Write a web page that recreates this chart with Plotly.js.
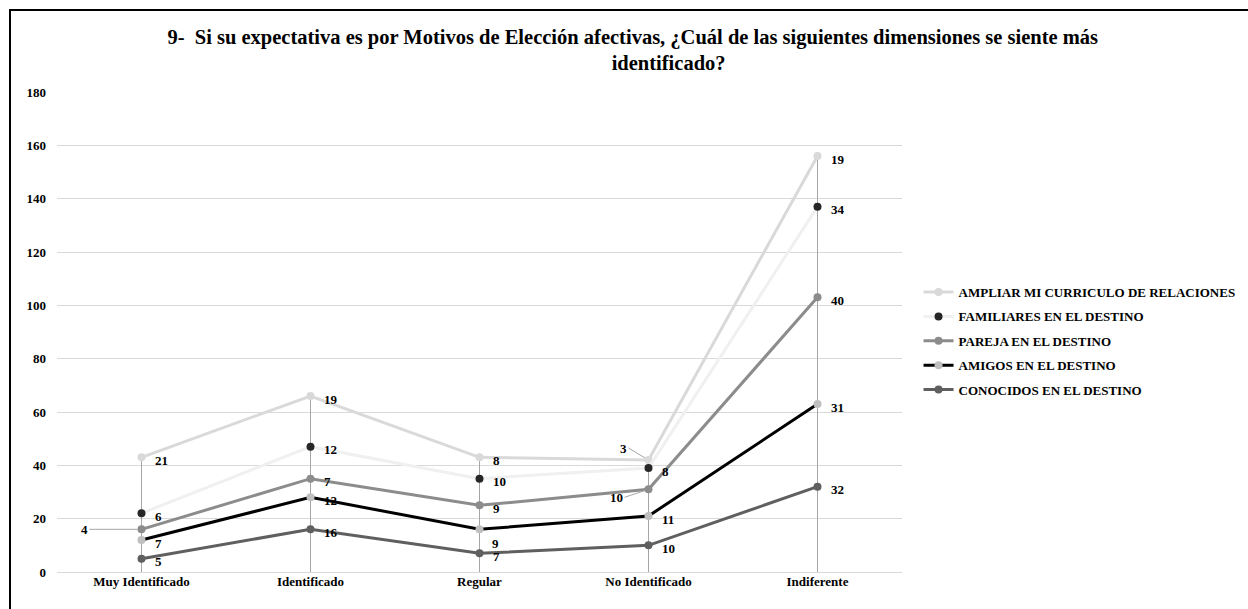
<!DOCTYPE html>
<html>
<head>
<meta charset="utf-8">
<script src="https://cdn.plot.ly/plotly-3.0.1.min.js"></script>
<style>
html,body{margin:0;padding:0;background:#fff;}
#chart{width:1248px;height:609px;position:absolute;left:0;top:0;}
#frame{position:absolute;left:9px;top:9px;width:1239px;height:600px;border-top:2px solid #000;border-left:2px solid #000;pointer-events:none;box-sizing:border-box;}
</style>
</head>
<body>
<div id="chart"></div>
<div id="frame"></div>
<script>
const categories = ["Muy Identificado", "Identificado", "Regular", "No Identificado", "Indiferente"];
const conocidos  = [5, 16, 7, 10, 32];
const amigos     = [7, 12, 9, 11, 31];
const pareja     = [4, 7, 9, 10, 40];
const familiares = [6, 12, 10, 8, 34];
const ampliar    = [21, 19, 8, 3, 19];
const yTicks = [0, 20, 40, 60, 80, 100, 120, 140, 160, 180];

const FONT = "Liberation Serif, Times New Roman, serif";

// stacking order bottom -> top
const seriesDefs = [
  {name: "CONOCIDOS EN EL DESTINO", vals: conocidos, line: "#5f5f5f", marker: "#5f5f5f"},
  {name: "AMIGOS EN EL DESTINO", vals: amigos, line: "#000000", marker: "#bfbfbf"},
  {name: "PAREJA EN EL DESTINO", vals: pareja, line: "#8c8c8c", marker: "#8c8c8c"},
  {name: "FAMILIARES EN EL DESTINO", vals: familiares, line: "#f0f0f0", marker: "#262626"},
  {name: "AMPLIAR MI CURRICULO DE RELACIONES", vals: ampliar, line: "#d9d9d9", marker: "#d9d9d9"}
];

const cum = categories.map(() => 0);
seriesDefs.forEach(s => {
  s.stack = s.vals.map((v, i) => { cum[i] += v; return cum[i]; });
});
const tops = cum.slice();

// drop lines
const dropX = [], dropY = [];
categories.forEach((c, i) => { dropX.push(c, c, null); dropY.push(0, tops[i], null); });

const traces = [{
  x: dropX, y: dropY, mode: "lines", line: {color: "#a6a6a6", width: 1},
  hoverinfo: "skip", showlegend: false
}];

// legend order: top series first
const legendOrder = seriesDefs.slice().reverse();
legendOrder.forEach((s, k) => {
  traces.push({
    x: categories, y: s.stack, name: s.name, mode: "lines+markers",
    line: {color: s.line, width: 3},
    marker: {color: s.marker, size: 8},
    legendgroup: "g" + k
  });
});

// special label placements (series name + category index)
const special = {
  "PAREJA EN EL DESTINO|0": {ax: -52, ay: 0},
  "AMPLIAR MI CURRICULO DE RELACIONES|3": {ax: -20, ay: -12},
  "PAREJA EN EL DESTINO|3": {ax: -24, ay: 8},
  "AMIGOS EN EL DESTINO|2": {xs: 10, ys: -14}
};

const annotations = [];
seriesDefs.forEach(s => {
  s.vals.forEach((v, i) => {
    const key = s.name + "|" + i;
    const sp = special[key];
    const base = {x: categories[i], y: s.stack[i], text: String(v),
      font: {family: FONT, size: 13, color: "#000", weight: "bold"}};
    if (sp && sp.ax !== undefined) {
      annotations.push(Object.assign(base, {showarrow: true, arrowhead: 0, arrowwidth: 1,
        arrowcolor: "#a6a6a6", ax: sp.ax, ay: sp.ay, standoff: 4, startstandoff: 0,
        xanchor: "right"}));
    } else {
      annotations.push(Object.assign(base, {showarrow: false, xanchor: "left",
        xshift: sp ? sp.xs : 11, yshift: sp ? sp.ys : -3}));
    }
  });
});

const layout = {
  width: 1248, height: 609,
  margin: {l: 57, r: 346, t: 92, b: 37},
  paper_bgcolor: "#fff", plot_bgcolor: "#fff",
  font: {family: FONT, color: "#000"},
  title: {
    text: "<b>9-  Si su expectativa es por Motivos de Elección afectivas, ¿Cuál de las siguientes dimensiones se siente más<br>" +
          "&nbsp;&nbsp;&nbsp;&nbsp;&nbsp;&nbsp;&nbsp;&nbsp;&nbsp;&nbsp;&nbsp;&nbsp;&nbsp;&nbsp;identificado?</b>",
    font: {family: FONT, size: 20.5, color: "#000"},
    xref: "container", x: 0.507, xanchor: "center", yref: "container", y: 0.928, yanchor: "top"
  },
  xaxis: {
    type: "category", categoryorder: "array", categoryarray: categories,
    range: [-0.5, 4.5],
    showgrid: false, zeroline: false, showline: false, ticks: "",
    tickfont: {family: FONT, size: 13, color: "#000", weight: "bold"},
    fixedrange: true
  },
  yaxis: {
    range: [0, 180], tickvals: yTicks, ticktext: yTicks.map(String),
    showgrid: true, gridcolor: "#d9d9d9", gridwidth: 1,
    zeroline: true, zerolinecolor: "#d9d9d9", zerolinewidth: 1,
    showline: false, ticks: "", ticklabelstandoff: 10,
    tickfont: {family: FONT, size: 13, color: "#000", weight: "bold"},
    fixedrange: true
  },
  legend: {
    xref: "container", x: 0.736, xanchor: "left",
    yref: "container", y: 0.44, yanchor: "middle",
    traceorder: "grouped", tracegroupgap: 4.5,
    font: {family: FONT, size: 13, color: "#000", weight: "bold"},
    itemwidth: 30, bgcolor: "rgba(0,0,0,0)"
  },
  annotations: annotations,
  showlegend: true
};

Plotly.newPlot("chart", traces, layout, {displayModeBar: false, staticPlot: true});
</script>
</body>
</html>
